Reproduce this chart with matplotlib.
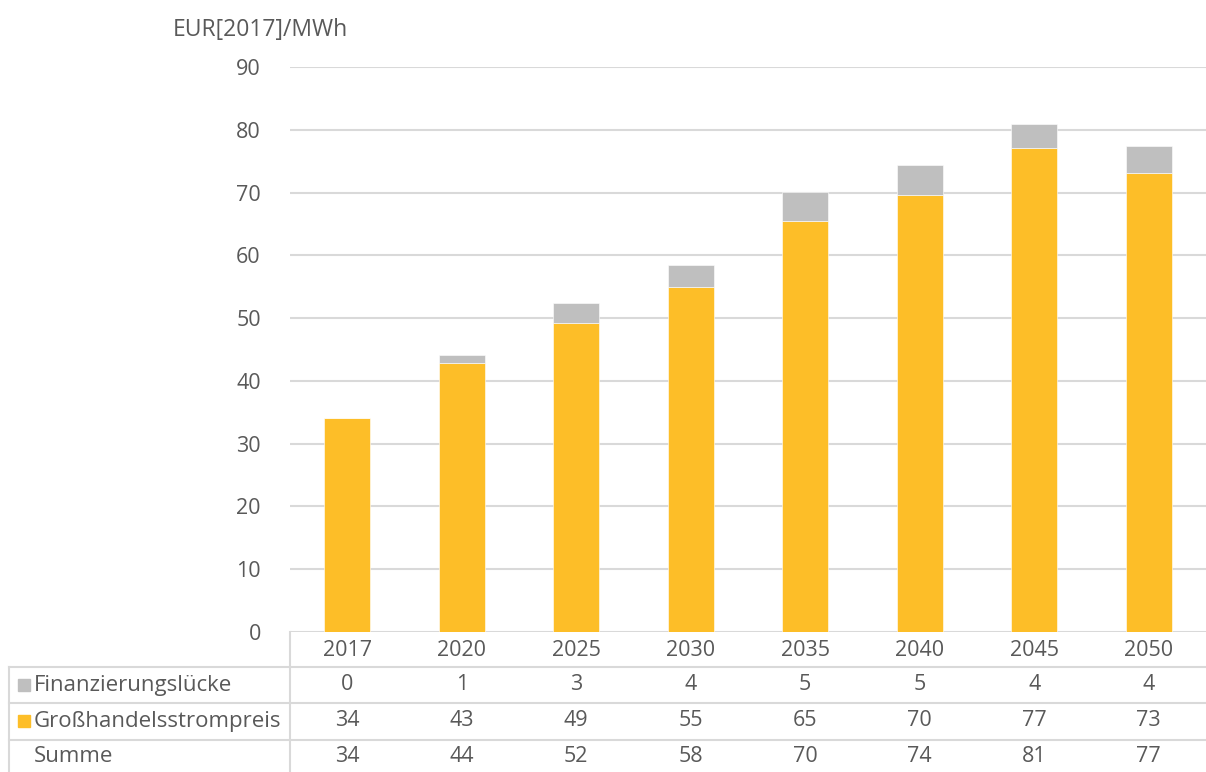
import numpy as np
import matplotlib.pyplot as plt
from matplotlib.transforms import blended_transform_factory

years = ["2017", "2020", "2025", "2030", "2035", "2040", "2045", "2050"]
preis = [34.1, 42.8, 49.2, 54.9, 65.4, 69.6, 77.1, 73.1]
luecke = [0.0, 1.3, 3.2, 3.5, 4.7, 4.8, 3.8, 4.3]
row_names = ["Finanzierungslücke", "Großhandelsstrompreis", "Summe"]

c_yellow = "#FDBE28"
c_gray = "#BFBFBF"
c_text = "#595959"
c_grid = "#D9D9D9"
fs = 15.5

plt.rcParams['font.family'] = ['Open Sans', 'DejaVu Sans']

W, H = 1206, 772
fig = plt.figure(figsize=(W / 100, H / 100), dpi=100)
ax = fig.add_axes([290 / W, (H - 632) / H, (W - 290) / W, (632 - 67) / H])

x = np.arange(len(years))
ax.bar(x, preis, width=0.4, color=c_yellow, edgecolor="white", linewidth=0.4, zorder=3)
ax.bar(x, luecke, width=0.4, bottom=preis, color=c_gray, edgecolor="white", linewidth=0.4, zorder=3)

ax.set_xlim(-0.5, len(years) - 0.5)
ax.set_ylim(0, 90)
ax.set_yticks(range(0, 91, 10))
ax.yaxis.grid(True, color=c_grid, linewidth=1.5, zorder=0)
ax.tick_params(axis="y", length=0, pad=21, labelsize=fs, labelcolor=c_text)
ax.set_xticks([])
for s in ["top", "right", "left", "bottom"]:
    ax.spines[s].set_visible(False)

fig.text(173 / W, 1 - 30 / H, "EUR[2017]/MWh", fontsize=16.5, color=c_text, va="center", ha="left")

# data table below the axes
tr = blended_transform_factory(ax.transData, fig.transFigure)
ft = fig.transFigure
fy = lambda py: 1 - py / H
lw = 1.5

fig.add_artist(plt.Line2D([290 / W, 290 / W], [fy(632), fy(772)], color=c_grid, lw=lw, transform=ft))
fig.add_artist(plt.Line2D([9 / W, 9 / W], [fy(667), fy(772)], color=c_grid, lw=lw, transform=ft))
for py in [667, 703, 740]:
    fig.add_artist(plt.Line2D([9 / W, 1], [fy(py), fy(py)], color=c_grid, lw=lw, transform=ft))

for i, yr in enumerate(years):
    fig.text(x[i], fy(650), yr, transform=tr, ha="center", va="center", fontsize=fs, color=c_text)
    tot = preis[i] + luecke[i]
    for py, v in zip([685, 721, 757], [luecke[i], preis[i], tot]):
        fig.text(x[i], fy(py), f"{v:.0f}", transform=tr, ha="center", va="center",
                 fontsize=fs, color=c_text)

for py, name, col in zip([685, 721, 757], row_names, [c_gray, c_yellow, None]):
    if col:
        fig.add_artist(plt.Rectangle((18 / W, fy(py + 6)), 12 / W, 12 / H, color=col, transform=ft))
    fig.text(34 / W, fy(py), name, ha="left", va="center", fontsize=16, color=c_text)

fig.savefig("out.png", dpi=100)
